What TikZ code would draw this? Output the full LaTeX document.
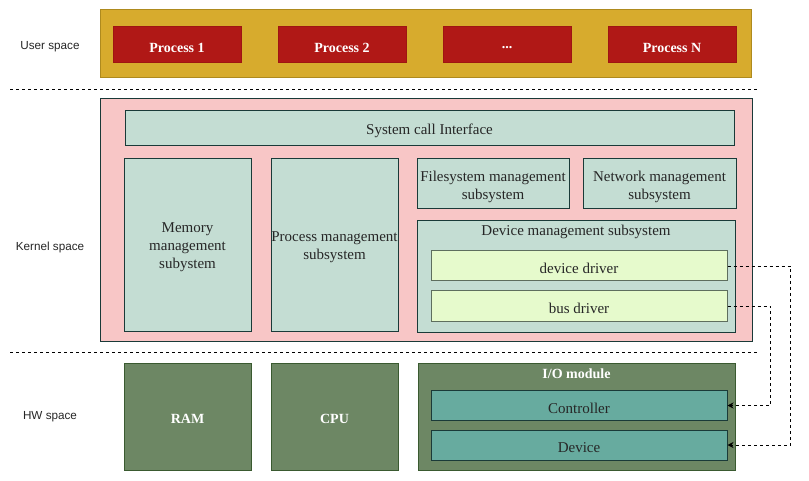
\documentclass[tikz,border=0pt]{standalone}
\usepackage{fontspec}
\setmainfont{Liberation Serif}
\newfontfamily\sidefont{Liberation Sans}
\usetikzlibrary{arrows.meta}
\newcommand\moreproc{...}
\definecolor{userfill}{HTML}{D7AB2D}
\definecolor{userdraw}{HTML}{AE8A1E}
\definecolor{procfill}{HTML}{B01816}
\definecolor{procdraw}{HTML}{9E1512}
\definecolor{kernfill}{HTML}{F8C6C6}
\definecolor{darkline}{HTML}{1A3A38}
\definecolor{mintfill}{HTML}{C4DDD3}
\definecolor{drvfill}{HTML}{E6FACC}
\definecolor{drvdraw}{HTML}{5E6E5E}
\definecolor{hwfill}{HTML}{6D8764}
\definecolor{hwdraw}{HTML}{3A5A30}
\definecolor{tealfill}{HTML}{67AB9F}
\tikzset{
  box/.style={draw, rectangle, line width=1pt, inner sep=0pt},
  lbl/.style={align=center, inner sep=0pt, yshift=-2.5pt, text=black!85,
    font=\fontsize{15}{18}\selectfont},
  wlbl/.style={lbl, text=white, font=\bfseries\fontsize{14}{16}\selectfont},
  txt/.style={label={[lbl]center:{#1}}},
  wtxt/.style={label={[wlbl]center:{#1}}},
  procbox/.style={box, fill=procfill, draw=procdraw},
  subbox/.style={box, fill=mintfill, draw=darkline},
  drvbox/.style={box, fill=drvfill, draw=drvdraw},
  hwbox/.style={box, fill=hwfill, draw=hwdraw},
  iobox/.style={box, fill=tealfill, draw=darkline},
  sidelabel/.style={font=\sidefont\fontsize{11.7}{14}\selectfont, text=black!85},
  sep/.style={dashed, dash pattern=on 3pt off 3pt, line width=0.8pt},
  link/.style={dashed, dash pattern=on 3pt off 3pt, line width=0.8pt,
    -{Stealth[length=6pt,width=6pt]}}
}
\begin{document}
\begin{tikzpicture}[x=1pt,y=-1pt]
\useasboundingbox (0,0) rectangle (809,481);
\fill[white] (0,0) rectangle (809,481);
% Drawing layer labels
\node[sidelabel] (userlbl) at (50,47) {User space};
\node[sidelabel] (kernlbl) at (50,247) {Kernel space};
\node[sidelabel] (hwlbl) at (50,417) {HW space};
\draw[sep] (10,89) -- (757,89);
\draw[sep] (10,352) -- (757,352);
% User space
\node[box, fill=userfill, draw=userdraw, minimum width=651pt, minimum height=68pt] (user) at (425.5,44) {};
\foreach \x/\name/\txt in {177/p1/Process 1, 342/p2/Process 2, 507/p3/\moreproc, 672/pN/Process N}
  \node[procbox, minimum width=128pt, minimum height=36pt, wtxt=\txt] (\name) at (\x,45) {};
% Kernel space
\node[box, fill=kernfill, draw=darkline, minimum width=652pt, minimum height=242pt] (kernel) at (426,220) {};
\node[subbox, minimum width=609pt, minimum height=35pt, txt={System call Interface}] (syscall) at (429.5,128.5) {};
\node[subbox, minimum width=127pt, minimum height=172pt, txt={Memory\\management\\subystem}] (mem) at (187.5,245) {};
\node[subbox, minimum width=127pt, minimum height=172pt, txt={Process management\\subsystem}] (procmgmt) at (334.5,245) {};
\node[subbox, minimum width=152pt, minimum height=50pt, txt={Filesystem management\\subsystem}] (fs) at (493,184) {};
\node[subbox, minimum width=153pt, minimum height=50pt, txt={Network management\\subsystem}] (net) at (659.5,184) {};
\node[subbox, minimum width=318pt, minimum height=111pt] (devmgmt) at (576,276.5) {};
\node[lbl] (devlbl) at (576,229.5) {Device management subsystem};
\node[drvbox, minimum width=296pt, minimum height=30pt, txt={device driver}] (devdrv) at (579,266) {};
\node[drvbox, minimum width=296pt, minimum height=30pt, txt={bus driver}] (busdrv) at (579,306) {};
% HW space
\node[hwbox, minimum width=127pt, minimum height=107pt, wtxt=RAM] (ram) at (187.5,416.5) {};
\node[hwbox, minimum width=127pt, minimum height=107pt, wtxt=CPU] (cpu) at (334.5,416.5) {};
\node[hwbox, minimum width=317pt, minimum height=107pt] (io) at (576.5,416.5) {};
\node[wlbl] (iolbl) at (576.5,371.5) {I/O module};
\node[iobox, minimum width=296pt, minimum height=30pt, txt=Controller] (ctrl) at (579,405.5) {};
\node[iobox, minimum width=296pt, minimum height=30pt, txt=Device] (dev) at (579,445) {};
% Drawing connectors
\draw[link] (devdrv.east) -- ++(63,0) |- (dev.east);
\draw[link] (busdrv.east) -- ++(43,0) |- (ctrl.east);
\end{tikzpicture}
\end{document}
